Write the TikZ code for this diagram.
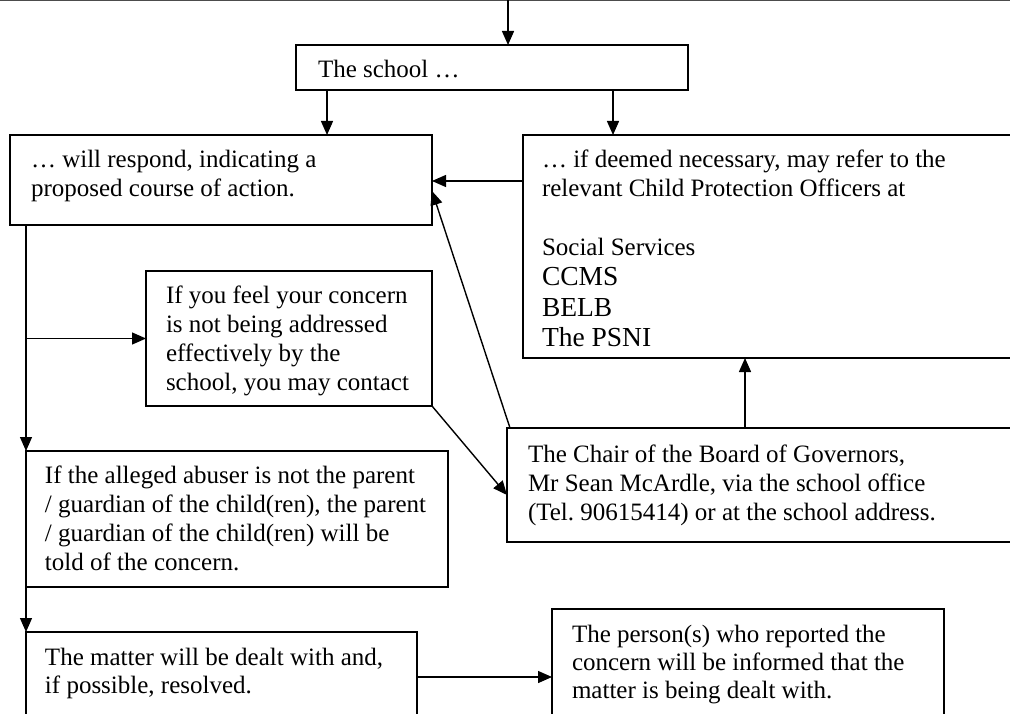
\documentclass[tikz,border=0pt]{standalone}
\usepackage{fontspec}
\setmainfont{Liberation Serif}
\usetikzlibrary{arrows.meta}
\frenchspacing
\begin{document}
\begin{tikzpicture}[x=1pt,y=-1pt,
  box/.style={draw, line width=1.6pt, anchor=north west, inner sep=0pt, outer sep=0pt},
  txt/.style={anchor=north west, inner sep=0pt, outer sep=0pt, align=left, font=\fontsize{25}{29}\selectfont},
  txtb/.style={anchor=north west, inner sep=0pt, outer sep=0pt, align=left, font=\fontsize{27.5}{30.5}\selectfont},
  arr/.style={-{Triangle[length=14pt,width=12pt]}, line width=1.4pt},
  ln/.style={line width=1.4pt}]
\useasboundingbox (0,0) rectangle (1010,714);
\clip (0,0) rectangle (1010,714);
\fill[white] (0,0) rectangle (1010,714);
\draw[gray!60!black, line width=2pt] (0,0.5) -- (1010,0.5);

% boxes
\node[box, minimum width=392pt, minimum height=45pt] (school) at (296,45) {};
\node[box, minimum width=422pt, minimum height=90pt] (respond) at (10,135) {};
\node[box, minimum width=500pt, minimum height=223pt] (refer) at (523,135) {};
\node[box, minimum width=286pt, minimum height=135pt] (feel) at (146,271) {};
\node[box, minimum width=422pt, minimum height=136pt] (abuser) at (26,451) {};
\node[box, minimum width=510pt, minimum height=114pt] (chair) at (507,428) {};
\node[box, minimum width=391pt, minimum height=82.5pt] (matter) at (26,632) {};
\node[box, minimum width=392pt, minimum height=105.5pt] (person) at (552,609) {};

% texts
\node[txt] (schoolT) at (318,57.5) {\strut The school \dots};
\node[txt] (respondT) at (31,147.5) {\strut\dots{} will respond, indicating a\\ proposed course of action.};
\node[txt] (referT) at (542,147.5) {\strut\dots{} if deemed necessary, may refer to the\\ relevant Child Protection Officers at\\[30pt] Social Services};
\node[txtb] (referL) at (542,264.5) {\strut CCMS\\ BELB\\ The PSNI};
\node[txt] (feelT) at (166,283.5) {\strut If you feel your concern\\ is not being addressed\\ effectively by the\\ school, you may contact};
\node[txt] (abuserT) at (45,463.5) {\strut If the alleged abuser is not the parent\\ / guardian of the child(ren), the parent\\ / guardian of the child(ren) will be\\ told of the concern.};
\node[txt] (chairT) at (528,442.5) {\strut The Chair of the Board of Governors,\\ Mr Sean McArdle, via the school office\\ (Tel. 90615414) or at the school address.};
\node[txt, font=\fontsize{25}{28}\selectfont] (matterT) at (45,646) {\strut The matter will be dealt with and,\\ if possible, resolved.};
\node[txt, font=\fontsize{25}{28}\selectfont] (personT) at (572,623) {\strut The person(s) who reported the\\ concern will be informed that the\\ matter is being dealt with.};

% connectors
\coordinate (topin) at (508,0);
\draw[arr] (topin) -- (topin |- school.north);
\draw[arr] ([xshift=31pt]school.south west) -- ([xshift=31pt]school.south west |- respond.north);
\draw[arr] ([xshift=317pt]school.south west) -- ([xshift=317pt]school.south west |- refer.north);
\draw[arr] ([yshift=-46pt]refer.north west) -- ([yshift=-46pt]refer.north west -| respond.east);
\draw[arr] ([xshift=3pt]chair.north west) -- ([yshift=-56pt]respond.north east);
\draw[arr] ([xshift=238pt]chair.north west) -- ([xshift=238pt]chair.north west |- refer.south);
\draw[arr] ([xshift=16pt]respond.south west) -- (abuser.north west);
\draw[arr] ([xshift=16pt]respond.south west |- feel.west) -- (feel.west);
\draw[arr] (abuser.south west) -- (matter.north west);
\draw[arr] (feel.south east) -- ([yshift=-67pt]chair.north west);
\draw[arr] ([yshift=-45pt]matter.north east) -- ([yshift=-45pt]matter.north east -| person.west);
\end{tikzpicture}
\end{document}
